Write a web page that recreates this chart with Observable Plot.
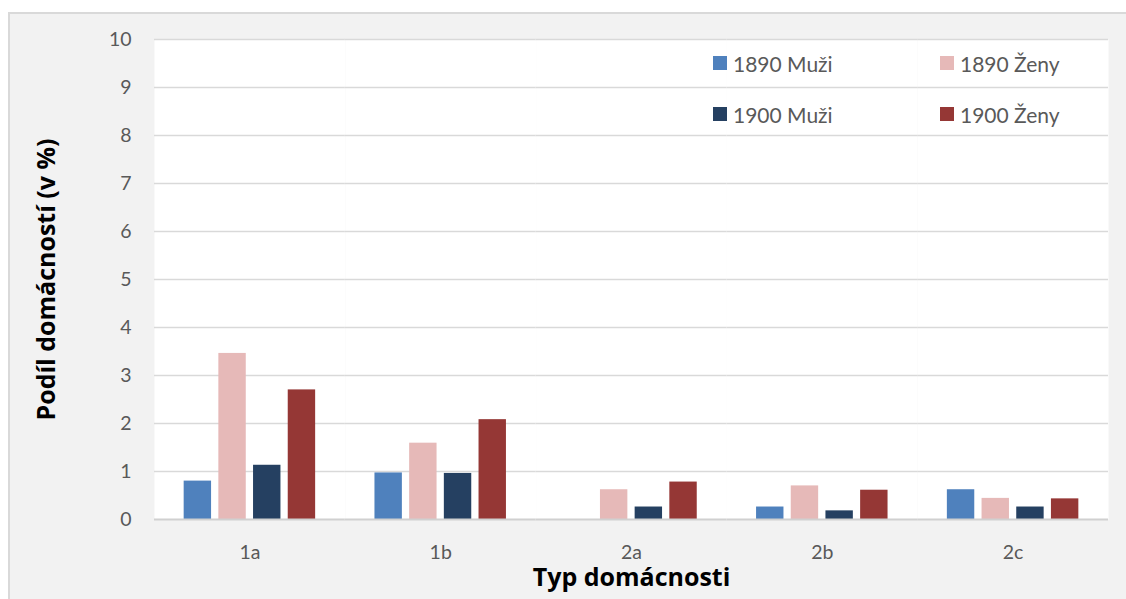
<!DOCTYPE html>
<html>
<head>
<meta charset="utf-8">
<script src="https://cdn.jsdelivr.net/npm/d3@7"></script>
<script src="https://cdn.jsdelivr.net/npm/@observablehq/plot@0.6"></script>
<style>
  html, body { margin: 0; padding: 0; background: white; }
  #wrap { position: relative; width: 1126px; height: 599px; overflow: hidden; }
  #box { position: absolute; left: 8px; top: 12px; width: 1200px; height: 700px;
         background: #f2f2f2; border-left: 2px solid #d9d9d9; border-top: 2px solid #d9d9d9; }
  #chart { position: absolute; left: 0; top: 0; }
  #legend { position: absolute; left: 713px; top: 50px; width: 380px; font-family: Lato, sans-serif;
            font-size: 21px; color: #595959; display: grid; grid-template-columns: 227px 150px; row-gap: 25px; }
  .item { display: flex; align-items: center; height: 26px; white-space: nowrap; }
  .sw { width: 14px; height: 14px; margin-right: 6px; display: inline-block; }
</style>
</head>
<body>
<div id="wrap">
  <div id="box"></div>
  <div id="chart"></div>
  <div id="legend"></div>
</div>
<script>
const categories = ["1a", "1b", "2a", "2b", "2c"];
const series = ["1890 Muži", "1890 Ženy", "1900 Muži", "1900 Ženy"];
const colors = ["#4f81bd", "#e6b9b8", "#254061", "#953735"];
const values1890Muzi = [0.80, 0.97, 0.00, 0.26, 0.62];
const values1890Zeny = [3.46, 1.59, 0.62, 0.70, 0.44];
const values1900Muzi = [1.13, 0.96, 0.26, 0.18, 0.26];
const values1900Zeny = [2.70, 2.08, 0.78, 0.61, 0.43];
const yTicks = [0, 1, 2, 3, 4, 5, 6, 7, 8, 9, 10];
const yTitle = "Podíl domácností (v %)";
const xTitle = "Typ domácnosti";

const seriesValues = [values1890Muzi, values1890Zeny, values1900Muzi, values1900Zeny];
const rows = [];
categories.forEach((c, i) => {
  series.forEach((s, j) => rows.push({category: c, series: s, value: seriesValues[j][i]}));
});

const chart = Plot.plot({
  width: 1126,
  height: 599,
  marginLeft: 154,
  marginRight: 18,
  marginTop: 39,
  marginBottom: 80,
  style: {background: "transparent", fontFamily: "Lato, sans-serif"},
  fx: {domain: categories, padding: 0, round: false, label: null},
  x: {domain: series, paddingInner: 0.21, paddingOuter: 0.855, round: false, axis: null},
  y: {domain: [0, 10], axis: null},
  color: {domain: series, range: colors},
  marks: [
    Plot.frame({fill: "white", stroke: null}),
    Plot.ruleY(yTicks.filter(d => d > 0), {stroke: "#d9d9d9", strokeWidth: 1.5, strokeOpacity: 1}),
    Plot.barY(rows, {fx: "category", x: "series", y: "value", fill: "series"}),
    Plot.ruleY([0], {stroke: "#d0d0d0", strokeWidth: 2, strokeOpacity: 1}),
    Plot.axisY({ticks: yTicks, tickSize: 0, tickPadding: 23, fontSize: 19.5, fill: "#595959", label: null}),
    Plot.axisY({ticks: [], tickSize: 0, label: yTitle, labelAnchor: "center", labelOffset: 117,
                labelArrow: "none", fontSize: 25, fontWeight: "bold", fill: "black", dy: -7,
                fontFamily: "'Open Sans', sans-serif"}),
    Plot.axisFx({anchor: "bottom", tickSize: 0, tickPadding: 26, fontSize: 19.5, fill: "#595959", label: null}),
    Plot.axisFx({anchor: "bottom", ticks: [], tickSize: 0, label: xTitle, labelAnchor: "center", labelOffset: 66,
                 labelArrow: "none", fontSize: 25, fontWeight: "bold", fill: "black", dx: -9,
                 fontFamily: "'Open Sans', sans-serif"})
  ]
});
document.getElementById("chart").appendChild(chart);

const legend = document.getElementById("legend");
series.forEach((s, j) => {
  const item = document.createElement("div");
  item.className = "item";
  const sw = document.createElement("span");
  sw.className = "sw";
  sw.style.background = colors[j];
  item.appendChild(sw);
  item.appendChild(document.createTextNode(s));
  legend.appendChild(item);
});
</script>
</body>
</html>
